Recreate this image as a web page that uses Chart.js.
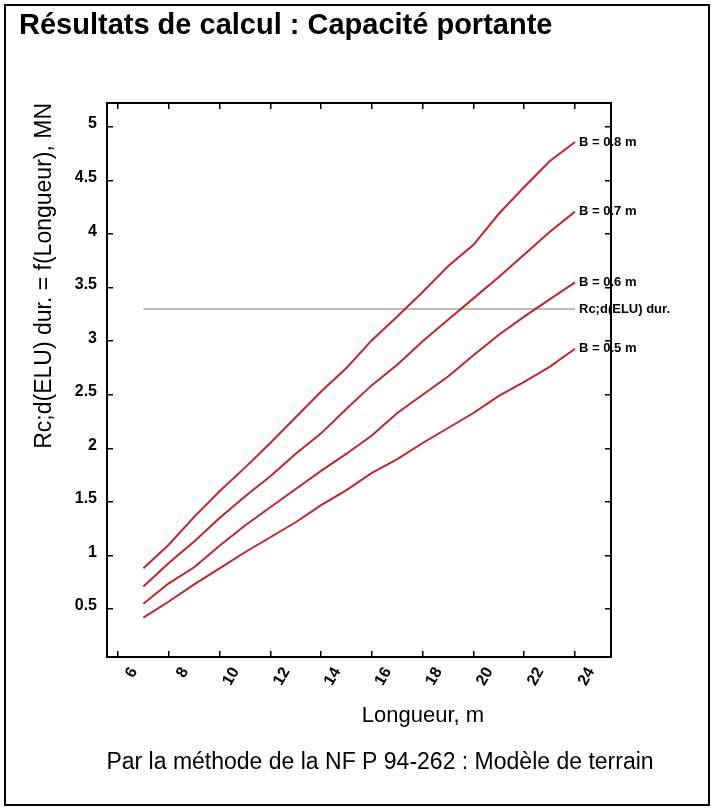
<!DOCTYPE html>
<html><head><meta charset="utf-8">
<script src="https://cdn.jsdelivr.net/npm/chart.js@4.4.1/dist/chart.umd.min.js"></script>
<style>html,body{margin:0;padding:0;background:#fff}canvas{display:block}</style>
</head><body>
<canvas id="c" width="715" height="810"></canvas>
<script>
// ---- data ----
const longueurs = [7, 8, 9, 10, 11, 12, 13, 14, 15, 16, 17, 18, 19, 20, 21, 22, 23, 24];
const rcB08 = [0.88, 1.10, 1.36, 1.60, 1.82, 2.05, 2.29, 2.53, 2.75, 3.01, 3.23, 3.46, 3.70, 3.90, 4.19, 4.44, 4.68, 4.86];
const rcB07 = [0.71, 0.93, 1.13, 1.35, 1.55, 1.74, 1.95, 2.14, 2.37, 2.59, 2.78, 3.00, 3.20, 3.40, 3.60, 3.81, 4.02, 4.21];
const rcB06 = [0.55, 0.74, 0.89, 1.09, 1.28, 1.45, 1.62, 1.79, 1.95, 2.12, 2.33, 2.50, 2.67, 2.87, 3.06, 3.23, 3.39, 3.55];
const rcB05 = [0.42, 0.57, 0.73, 0.88, 1.03, 1.17, 1.31, 1.47, 1.61, 1.77, 1.90, 2.05, 2.19, 2.33, 2.49, 2.62, 2.76, 2.93];
const eluLongueurs = [7, 24];
const eluValues = [3.3, 3.3];
const seriesLabels = ['B = 0.8 m', 'B = 0.7 m', 'B = 0.6 m', 'B = 0.5 m'];
const eluLabel = 'Rc;d(ELU) dur.';
const xTicks = [6, 8, 10, 12, 14, 16, 18, 20, 22, 24];
const yTicks = [0.5, 1, 1.5, 2, 2.5, 3, 3.5, 4, 4.5, 5];
const titleText = 'Résultats de calcul : Capacité portante';
const footerText = 'Par la méthode de la NF P 94-262 : Modèle de terrain';
const xTitle = 'Longueur, m';
const yTitle = 'Rc;d(ELU) dur. = f(Longueur), MN';

// ---- chart ----
const FONT = '"Liberation Sans", Arial, sans-serif';
const RED = '#c0262c';
const pts = (xs, ys) => xs.map((x, i) => ({x: x, y: ys[i]}));
const series = [rcB08, rcB07, rcB06, rcB05];

const datasets = series.map((s, i) => ({
  label: seriesLabels[i], data: pts(longueurs, s), borderColor: RED, borderWidth: 2,
  pointRadius: 0, tension: 0, fill: false, xAxisID: 'x', yAxisID: 'y'
}));
datasets.push({
  label: eluLabel, data: pts(eluLongueurs, eluValues), borderColor: '#bdbdbd', borderWidth: 2,
  pointRadius: 0, tension: 0, fill: false, xAxisID: 'x', yAxisID: 'y'
});

const X_MIN = 5.567, X_MAX = 25.418, Y_MIN = 0.052, Y_MAX = 5.224;

const gridOpts = {drawOnChartArea: false, drawTicks: true, tickLength: -6, color: '#000', lineWidth: 1.5};
const borderOpts = {display: true, color: '#000', width: 2};
const setTicks = arr => (scale) => { scale.ticks = arr.map(v => ({value: v})); };

const decor = {
  id: 'decor',
  afterDraw(chart) {
    const ctx = chart.ctx;
    ctx.save();
    ctx.strokeStyle = '#000'; ctx.lineWidth = 2;
    ctx.strokeRect(5, 5, 704, 800);
    ctx.fillStyle = '#000';
    ctx.textBaseline = 'middle';
    ctx.font = 'bold 29px ' + FONT; ctx.textAlign = 'left';
    ctx.fillText(titleText, 19, 26);
    ctx.font = '22px ' + FONT; ctx.textAlign = 'center';
    ctx.fillText(xTitle, 423, 716);
    ctx.font = '23px ' + FONT;
    ctx.fillText(footerText, 380, 763);
    ctx.font = 'bold 13px ' + FONT; ctx.textAlign = 'left';
    chart.data.datasets.forEach((ds, i) => {
      const meta = chart.getDatasetMeta(i);
      const p = meta.data[meta.data.length - 1];
      ctx.fillText(ds.label, p.x + 4, p.y);
    });
    ctx.restore();
  }
};

new Chart(document.getElementById('c'), {
  type: 'line',
  data: {datasets: datasets},
  plugins: [decor],
  options: {
    responsive: false, animation: false, devicePixelRatio: 1,
    layout: {padding: 0},
    plugins: {legend: {display: false}, tooltip: {enabled: false}},
    scales: {
      x: {
        type: 'linear', position: 'bottom', min: X_MIN, max: X_MAX,
        afterBuildTicks: setTicks(xTicks),
        afterFit: s => { s.height = 153; },
        grid: gridOpts, border: borderOpts,
        ticks: {minRotation: 60, maxRotation: 60, padding: 13, labelOffset: 16, color: '#000',
                font: {family: FONT, size: 16, weight: 'bold'}, callback: v => String(v)}
      },
      x2: {
        type: 'linear', position: 'top', min: X_MIN, max: X_MAX,
        afterBuildTicks: setTicks(xTicks),
        afterFit: s => { s.height = 103; },
        grid: gridOpts, border: borderOpts, ticks: {display: false}
      },
      y: {
        type: 'linear', position: 'left', min: Y_MIN, max: Y_MAX,
        afterBuildTicks: setTicks(yTicks),
        afterFit: s => { s.width = 107; },
        grid: gridOpts, border: borderOpts,
        ticks: {padding: 16, labelOffset: -3, color: '#000',
                font: {family: FONT, size: 16, weight: 'bold'}, callback: v => String(v)},
        title: {display: true, text: yTitle, align: 'end', color: '#000',
                font: {family: FONT, size: 23}, padding: {top: 31, bottom: 0}}
      },
      y2: {
        type: 'linear', position: 'right', min: Y_MIN, max: Y_MAX,
        afterBuildTicks: setTicks(yTicks),
        afterFit: s => { s.width = 104; },
        grid: gridOpts, border: borderOpts, ticks: {display: false}
      }
    }
  }
});
</script>
</body></html>
